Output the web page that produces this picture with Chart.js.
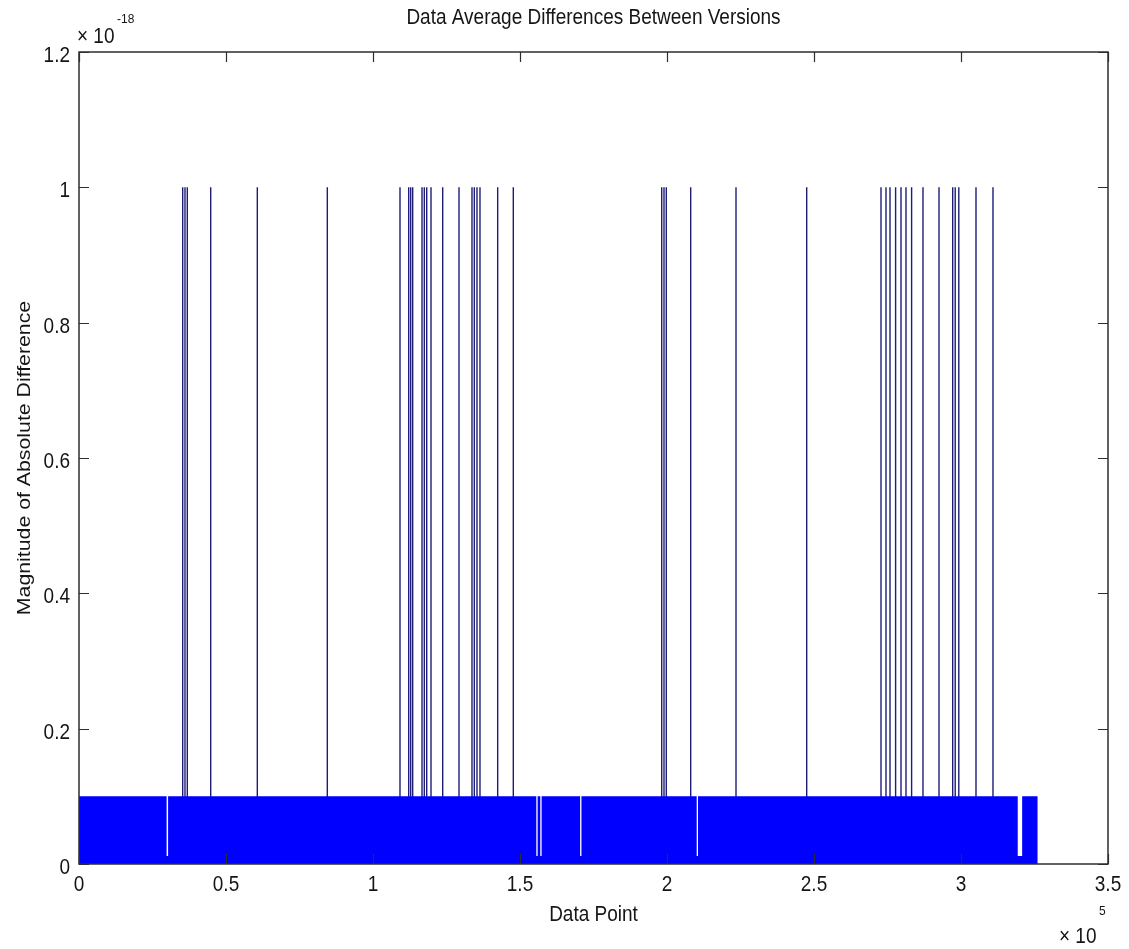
<!DOCTYPE html>
<html><head><meta charset="utf-8">
<script src="https://cdn.jsdelivr.net/npm/chart.js@4"></script>
<style>html,body{margin:0;padding:0;background:#fff;}#wrap{width:1129px;height:949px;position:relative;}</style>
</head><body><div id="wrap"><canvas id="c" width="1129" height="949"></canvas></div>
<script>
const chartTitle = 'Data Average Differences Between Versions';
const xAxisTitle = 'Data Point';
const yAxisTitle = 'Magnitude of Absolute Difference';
const xExponent = '5';
const yExponent = '-18';
const xTickValues = [0, 50000, 100000, 150000, 200000, 250000, 300000, 350000];
const yTickValues = [0, 0.2e-18, 0.4e-18, 0.6e-18, 0.8e-18, 1.0e-18, 1.2e-18];

// positions (data point index) where the difference is 1e-18
const spikeX = [35270, 36050, 36840, 44800, 60650, 84460,
  109180, 112140, 112820, 113500, 116670, 117450, 118270, 119730, 123710, 129250,
  133670, 134460, 135370, 136390, 142410, 147720,
  198200, 198980, 199760, 208060, 223470, 247520,
  272790, 274490, 275850, 277760, 279590, 281290, 283200, 287070, 292520,
  297180, 298030, 299250, 305100, 310880];
const spikeValue = 1e-18;

// the dense band of 1e-19 values, with a few drops
const bandStartX = 0;
const bandEndX = 326100;
const bandValue = 1e-19;
const gapStartX = [29800, 155550, 156900, 170450, 210100, 319300];
const gapEndX   = [30300, 156000, 157350, 170900, 210550, 320800];
const gapValue = 1.2e-20;

const bandPoints = [{x: bandStartX, y: 0}, {x: bandStartX, y: bandValue}];
gapStartX.forEach((s, i) => {
  bandPoints.push({x: s, y: bandValue}, {x: s, y: gapValue}, {x: gapEndX[i], y: gapValue}, {x: gapEndX[i], y: bandValue});
});
bandPoints.push({x: bandEndX, y: bandValue}, {x: bandEndX, y: 0});

const spikePoints = [];
spikeX.forEach(x => { spikePoints.push({x: x, y: 0}, {x: x, y: spikeValue}, {x: x, y: null}); });

const FONT = "'Liberation Sans', Arial, sans-serif";
const TXT = '#151515';
const STRETCH = 1.12;

function drawText(ctx, str, x, y, size, align, rotate) {
  ctx.save();
  ctx.translate(x, y);
  if (rotate) { ctx.rotate(rotate); ctx.scale(STRETCH, 1); }
  else { ctx.scale(1, STRETCH); }
  ctx.font = size + 'px ' + FONT;
  ctx.textAlign = align;
  ctx.textBaseline = 'alphabetic';
  ctx.fillStyle = TXT;
  ctx.fillText(str, 0, 0);
  ctx.restore();
}

const framePlugin = {
  id: 'frame',
  afterDraw(chart) {
    const {ctx, chartArea: a, scales: {x, y}} = chart;
    ctx.save();
    ctx.strokeStyle = '#2e2e2e';
    ctx.lineWidth = 1.5;
    ctx.strokeRect(a.left, a.top, a.right - a.left, a.bottom - a.top);
    const L = 10;
    ctx.beginPath();
    x.ticks.forEach(t => {
      const px = Math.round(x.getPixelForValue(t.value)) + 0.5;
      ctx.moveTo(px, a.bottom); ctx.lineTo(px, a.bottom - L);
      ctx.moveTo(px, a.top); ctx.lineTo(px, a.top + L);
    });
    y.ticks.forEach(t => {
      const py = Math.round(y.getPixelForValue(t.value)) + 0.5;
      ctx.moveTo(a.left, py); ctx.lineTo(a.left + L, py);
      ctx.moveTo(a.right, py); ctx.lineTo(a.right - L, py);
    });
    ctx.lineWidth = 1.2;
    ctx.stroke();
    ctx.restore();

    // tick labels
    x.ticks.forEach(t => {
      drawText(ctx, String(Math.round(t.value / 1e5 * 10) / 10), x.getPixelForValue(t.value), a.bottom + 27 / STRETCH * STRETCH, 19, 'center');
    });
    y.ticks.forEach(t => {
      drawText(ctx, String(Math.round(t.value / 1e-18 * 10) / 10), a.left - 9, y.getPixelForValue(t.value) + 10, 19, 'right');
    });

    drawText(ctx, chartTitle, (a.left + a.right) / 2, 24, 19, 'center');
    drawText(ctx, xAxisTitle, (a.left + a.right) / 2, 921, 19, 'center');
    drawText(ctx, yAxisTitle, 30, (a.top + a.bottom) / 2, 19, 'center', -Math.PI / 2);

    drawText(ctx, '\u00d7 10', 77, 43, 19, 'left');
    drawText(ctx, yExponent, 117, 23, 12, 'left');
    drawText(ctx, '\u00d7 10', 1059, 943, 19, 'left');
    drawText(ctx, xExponent, 1099, 915, 12, 'left');
  }
};

new Chart(document.getElementById('c'), {
  type: 'line',
  data: {
    datasets: [
      {label: 'band', data: bandPoints, order: 0, fill: 'origin', backgroundColor: '#0000ff', borderWidth: 0, pointRadius: 0, tension: 0},
      {label: 'spikes', data: spikePoints, order: 1, fill: false, borderColor: '#1e1e78', borderWidth: 1.4, pointRadius: 0, tension: 0, spanGaps: false}
    ]
  },
  options: {
    responsive: false,
    animation: false,
    events: [],
    layout: {padding: {top: 52, right: 21, left: 0, bottom: 0}},
    plugins: {legend: {display: false}, tooltip: {enabled: false}, title: {display: false}},
    scales: {
      x: {
        type: 'linear', min: 0, max: 350000,
        grid: {display: false, drawTicks: false}, border: {display: false},
        afterBuildTicks: s => { s.ticks = xTickValues.map(v => ({value: v})); },
        afterFit: s => { s.height = 85; },
        ticks: {display: false}
      },
      y: {
        type: 'linear', min: 0, max: 1.2e-18,
        grid: {display: false, drawTicks: false}, border: {display: false},
        afterBuildTicks: s => { s.ticks = yTickValues.map(v => ({value: v})); },
        afterFit: s => { s.width = 79; },
        ticks: {display: false}
      }
    }
  },
  plugins: [framePlugin]
});
</script></body></html>
